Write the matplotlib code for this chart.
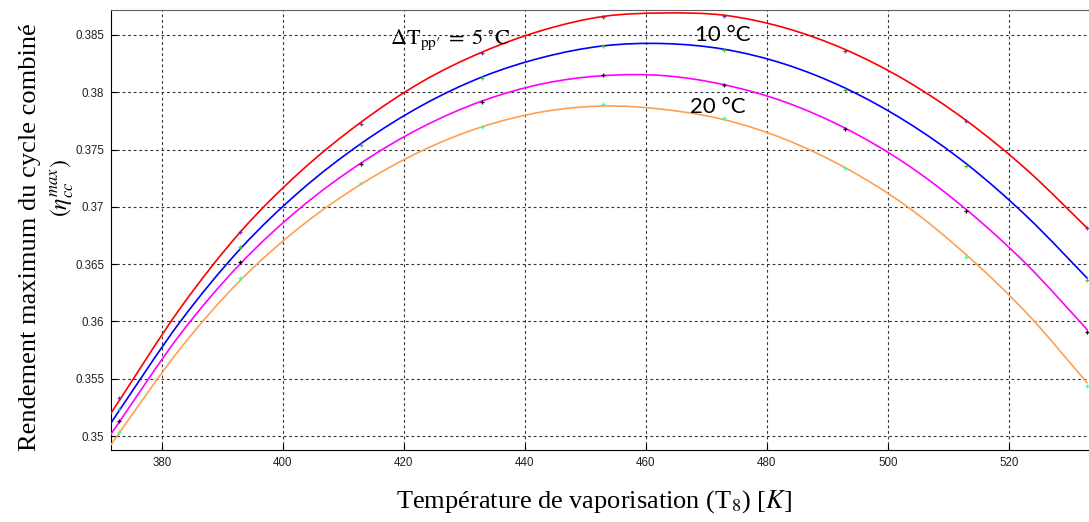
import matplotlib
matplotlib.use('Agg')
import matplotlib.pyplot as plt
from matplotlib.path import Path
from matplotlib.patches import PathPatch

plt.rcParams['mathtext.fontset'] = 'stix'

# Température de vaporisation (K)
T_courbe = [371.6, 373, 383, 393, 403, 413, 423, 433, 443, 453, 463, 473, 483, 493, 503, 513, 523, 533]
eta_5 = [0.3520, 0.35312, 0.36112, 0.36782, 0.37312, 0.37742, 0.38092, 0.38352, 0.38542, 0.38662, 0.38692,
         0.38672, 0.38562, 0.38372, 0.38102, 0.37752, 0.37322, 0.36812]
eta_10 = [0.35111, 0.35225, 0.35995, 0.36635, 0.37145, 0.37555, 0.37885, 0.38135, 0.38305, 0.38405, 0.38425,
          0.38375, 0.38245, 0.38035, 0.37745, 0.37375, 0.36915, 0.36375]
eta_15 = [0.35015, 0.35125, 0.35885, 0.36505, 0.36995, 0.37385, 0.37695, 0.37925, 0.38075, 0.38145, 0.38145,
          0.38065, 0.37915, 0.37685, 0.37375, 0.36975, 0.36495, 0.35925]
eta_20 = [0.34921, 0.3503, 0.3576, 0.3636, 0.3683, 0.3720, 0.3749, 0.3770, 0.3783, 0.3788, 0.3785,
          0.3776, 0.3759, 0.3734, 0.3701, 0.3658, 0.3607, 0.3546]

# points de calcul (marqueurs +)
T_pts = [373, 393, 413, 433, 453, 473, 493, 513, 533]
pts_5 = [0.35329, 0.36783, 0.37723, 0.38340, 0.38654, 0.38663, 0.38363, 0.37752, 0.36813]
pts_10 = [0.35233, 0.36647, 0.37543, 0.38127, 0.38401, 0.38366, 0.38020, 0.37358, 0.36362]
pts_15 = [0.35134, 0.36516, 0.37372, 0.37915, 0.38151, 0.38063, 0.37677, 0.36962, 0.35910]
pts_20 = [0.35038, 0.36379, 0.37205, 0.37700, 0.37895, 0.37775, 0.37337, 0.36560, 0.35439]

x_ticks = [380, 400, 420, 440, 460, 480, 500, 520]
y_ticks = [0.35, 0.355, 0.36, 0.365, 0.37, 0.375, 0.38, 0.385]
y_tick_labels = ['0.35', '0.355', '0.36', '0.365', '0.37', '0.375', '0.38', '0.385']


# courbe lisse (Catmull-Rom -> Bezier) passant par les points lus
def courbe_lisse(xs, ys):
    pts = list(zip(xs, ys))
    verts = [pts[0]]
    codes = [Path.MOVETO]
    n = len(pts)
    for i in range(n - 1):
        p0 = pts[max(i - 1, 0)]
        p1 = pts[i]
        p2 = pts[i + 1]
        p3 = pts[min(i + 2, n - 1)]
        c1 = (p1[0] + (p2[0] - p0[0]) / 6, p1[1] + (p2[1] - p0[1]) / 6)
        c2 = (p2[0] - (p3[0] - p1[0]) / 6, p2[1] - (p3[1] - p1[1]) / 6)
        verts += [c1, c2, p2]
        codes += [Path.CURVE4] * 3
    return Path(verts, codes)


fig = plt.figure(figsize=(10.89, 5.22), dpi=100)
ax = fig.add_axes([111 / 1089, 72 / 522, 978 / 1089, 440 / 522])

courbes = [(eta_5, pts_5, '#ff0000', '#7030a0'),
           (eta_10, pts_10, '#0000ff', '#50c030'),
           (eta_15, pts_15, '#ff00ff', '#000000'),
           (eta_20, pts_20, '#ffa050', '#40ffa0')]
for eta, pts, c, cm in courbes:
    ax.add_patch(PathPatch(courbe_lisse(T_courbe, eta), fill=False, edgecolor=c, lw=1.2, zorder=3))
    ax.plot(T_pts, pts, '+', color=cm, ms=3.5, mew=0.9, zorder=4)

ax.set_xlim(371.6, 533.25)
ax.set_ylim(0.34878, 0.38718)
ax.set_xticks(x_ticks)
ax.set_yticks(y_ticks)
ax.set_yticklabels(y_tick_labels)
ax.tick_params(direction='in', length=4, width=0.8, labelsize=8.3, pad=5)
for lab in ax.get_xticklabels() + ax.get_yticklabels():
    lab.set_family('Liberation Sans')
    lab.set_color('#202020')
ax.grid(True, color='#333333', ls=(0, (2.5, 2.5)), lw=0.8)
ax.spines['right'].set_visible(False)
ax.spines['top'].set_color('#606060')

# annotations
ax.text(417.7, 0.38456, "$\\Delta\\mathrm{T}_{\\mathrm{pp\u2032}}\\;=\\;5\\;^{\\circ}\\mathrm{C}$",
        fontsize=16, va='center', ha='left')
ax.text(468.1, 0.38498, '10 °C', fontsize=16, family='Lato', va='center', ha='left')
ax.text(467.3, 0.37872, '20 °C', fontsize=16, family='Lato', va='center', ha='left')

fig.text(594 / 1089, 1 - 502 / 522, r'Température de vaporisation (T$_8$) [$K$]',
         family='Liberation Serif', fontsize=19, ha='center', va='center')
fig.text(30 / 1089, 1 - 237 / 522, 'Rendement maximum du cycle combiné',
         family='Liberation Serif', fontsize=19, rotation=90, ha='center', va='center')
fig.text(62 / 1089, 1 - 188 / 522, r'$(\eta_{cc}^{max})$',
         fontsize=17, rotation=90, ha='center', va='center')

fig.savefig('out.png', dpi=100)
